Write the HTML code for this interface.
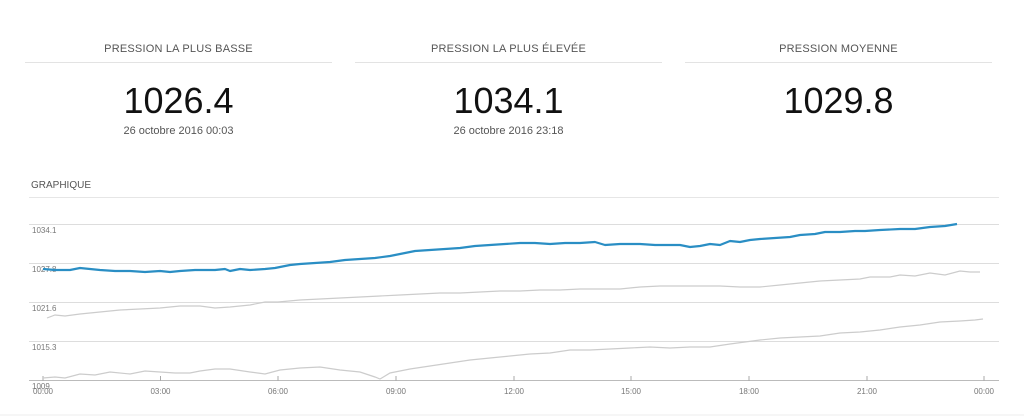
<!DOCTYPE html>
<html><head><meta charset="utf-8"><style>
body{margin:0;width:1024px;height:417px;background:#fff;font-family:"Liberation Sans",sans-serif;overflow:hidden;position:relative}
.col{position:absolute;top:0;width:307px;text-align:center}
.t{position:absolute;top:43px;width:100%;font-size:11px;color:#555;letter-spacing:0.2px}
.ln{position:absolute;top:62px;left:0;width:100%;height:1px;background:#e3e3e3}
.big{position:absolute;top:80px;width:100%;font-size:36px;color:#111}
.d{position:absolute;top:125px;width:100%;font-size:11px;color:#555}
</style></head><body>
<div class="col" style="left:25px"><div class="t">PRESSION LA PLUS BASSE</div><div class="ln"></div><div class="big">1026.4</div><div class="d">26 octobre 2016 00:03</div></div>
<div class="col" style="left:355px"><div class="t">PRESSION LA PLUS ÉLEVÉE</div><div class="ln"></div><div class="big">1034.1</div><div class="d">26 octobre 2016 23:18</div></div>
<div class="col" style="left:685px"><div class="t">PRESSION MOYENNE</div><div class="ln"></div><div class="big">1029.8</div><div class="d"></div></div>
<svg width="1024" height="417" style="position:absolute;left:0;top:0" font-family="Liberation Sans, sans-serif">
<text x="31" y="188" font-size="10" fill="#555">GRAPHIQUE</text>
<line x1="29" y1="197.5" x2="999" y2="197.5" stroke="#e6e6e6"/>
<g stroke="#ddd" stroke-width="1">
<line x1="29" y1="224.5" x2="999" y2="224.5"/>
<line x1="29" y1="263.5" x2="999" y2="263.5"/>
<line x1="29" y1="302.5" x2="999" y2="302.5"/>
<line x1="29" y1="341.5" x2="999" y2="341.5"/>
</g>
<line x1="29" y1="380.5" x2="999" y2="380.5" stroke="#bbb"/>
<g font-size="8" fill="#777">
<text x="32" y="233">1034.1</text><text x="32" y="272">1027.8</text><text x="32" y="311">1021.6</text><text x="32" y="350">1015.3</text><text x="32" y="389">1009</text>
</g>
<g stroke="#aaa"><line x1="43" y1="376" x2="43" y2="381"/><line x1="160.5" y1="376" x2="160.5" y2="381"/><line x1="278" y1="376" x2="278" y2="381"/><line x1="396" y1="376" x2="396" y2="381"/><line x1="514" y1="376" x2="514" y2="381"/><line x1="631" y1="376" x2="631" y2="381"/><line x1="749" y1="376" x2="749" y2="381"/><line x1="867" y1="376" x2="867" y2="381"/><line x1="984" y1="376" x2="984" y2="381"/></g>
<g font-size="8" fill="#777" text-anchor="middle">
<text x="43" y="394">00:00</text><text x="160.5" y="394">03:00</text><text x="278" y="394">06:00</text><text x="396" y="394">09:00</text><text x="514" y="394">12:00</text><text x="631" y="394">15:00</text><text x="749" y="394">18:00</text><text x="867" y="394">21:00</text><text x="984" y="394">00:00</text>
</g>
<polyline fill="none" stroke="#ccc" stroke-width="1.2" points="47,318 55,315 65,316 80,314 100,312 120,310 140,309 160,308 180,306 200,306 215,308 230,307 250,305 265,302 278,302 300,300 320,299 340,298 360,297 380,296 400,295 420,294 440,293 460,293 480,292 500,291 520,291 540,290 560,290 580,289 600,289 620,289 640,287 660,286 680,286 700,286 720,286 740,287 760,287 780,285 800,283 820,281 840,280 860,279 870,277 890,277 900,275 915,276 930,273 945,275 960,271 970,272 980,272"/>
<polyline fill="none" stroke="#ccc" stroke-width="1.2" points="43,378 55,377 65,378 80,374 95,375 110,372 130,374 145,371 160,372 175,373 190,373 200,371 215,369 230,369 250,372 265,374 280,370 300,368 320,367 340,370 360,372 375,377 380,379 390,373 410,369 430,366 450,363 470,360 490,358 510,356 530,354 550,353 570,350 590,350 610,349 630,348 650,347 670,348 690,347 710,347 730,344 745,342 760,340 780,338 800,337 820,336 840,333 860,332 880,330 900,327 920,325 940,322 960,321 975,320 983,319"/>
<polyline fill="none" stroke="#2a8ec4" stroke-width="2.2" stroke-linejoin="round" points="43,269 55,270 70,270 80,268 90,269 100,270 115,271 130,271 145,272 160,271 170,272 180,271 195,270 215,270 225,269 230,271 240,269 250,270 265,269 275,268 280,267 290,265 300,264 315,263 330,262 345,260 360,259 375,258 390,256 405,253 415,251 430,250 445,249 460,248 475,246 490,245 505,244 520,243 535,243 550,244 565,243 580,243 595,242 605,245 620,244 640,244 655,245 670,245 680,245 690,247 700,246 710,244 720,245 730,241 740,242 750,240 760,239 775,238 790,237 800,235 815,234 825,232 840,232 855,231 865,231 880,230 900,229 915,229 930,227 945,226 957,224"/>
<line x1="0" y1="415" x2="1024" y2="415" stroke="#eee"/>
</svg>
</body></html>
